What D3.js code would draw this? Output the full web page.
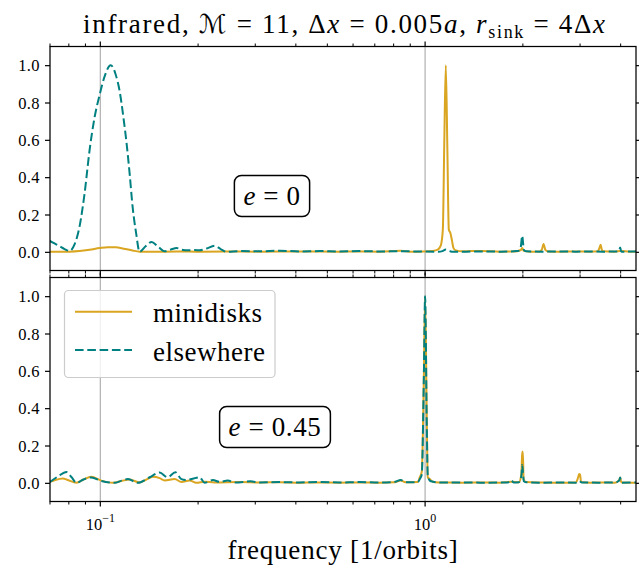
<!DOCTYPE html>
<html>
<head>
<meta charset="utf-8">
<script src="https://cdn.jsdelivr.net/npm/d3@7"></script>
<style>
  body { margin: 0; background: #fff; }
  text { font-family: "Liberation Serif", "DejaVu Serif", serif; fill: #000; }
</style>
</head>
<body>
<svg id="chart" width="639" height="568"></svg>
<script>
// ---- Spectra (normalised amplitude vs. frequency in 1/orbits) ----
// e = 0 panel
const freqMiniE0 = [0.0698, 0.0804, 0.0863, 0.0927, 0.0995, 0.1053, 0.1115, 0.1180, 0.1257, 0.1321,
  0.1439, 0.1718, 0.2022, 0.2449, 0.3095, 0.4111, 0.5460, 0.6292, 0.7254, 0.8417, 0.8972, 0.9908,
  1.056, 1.094, 1.118, 1.134, 1.146, 1.158, 1.171, 1.183, 1.197, 1.210, 1.223, 1.243, 1.30, 1.49,
  1.699, 1.876, 1.972, 1.99, 2.014, 2.10, 2.256, 2.288, 2.316, 2.346, 2.388, 2.6, 2.913, 3.217,
  3.404, 3.44, 3.47, 3.50, 3.53, 3.841, 3.988, 4.272, 4.46];
const ampMiniE0 = [0.0, 0.001, 0.004, 0.011, 0.02, 0.025, 0.024, 0.017, 0.007, 0.001,
  0.0, 0.002, 0.001, 0.002, 0.001, 0.002, 0.001, 0.002, 0.001, 0.006, 0.001, 0.002,
  0.005, 0.012, 0.035, 0.12, 0.6, 1.0, 0.55, 0.12, 0.1, 0.06, 0.02, 0.008, 0.003, 0.005,
  0.001, 0.002, 0.01, 0.02, 0.005, 0.001, 0.002, 0.012, 0.042, 0.01, 0.002, 0.001, 0.002, 0.001,
  0.003, 0.02, 0.038, 0.012, 0.003, 0.001, 0.005, 0.001, 0.002];

const freqElseE0 = [0.0698, 0.0723, 0.0749, 0.0776, 0.0804, 0.0833, 0.0863, 0.0894, 0.0927, 0.0960,
  0.0995, 0.1031, 0.1076, 0.1115, 0.1147, 0.1180, 0.1205, 0.1231, 0.1257, 0.1289, 0.1321, 0.1379,
  0.1439, 0.1501, 0.1578, 0.1646, 0.1718, 0.1780, 0.1858, 0.1952, 0.2022, 0.2125, 0.2249, 0.2347,
  0.2449, 0.2686, 0.3095, 0.3567, 0.4111, 0.4738, 0.5460, 0.6292, 0.7254, 0.8358, 0.9495, 1.10,
  1.13, 1.158, 1.19, 1.22, 1.474, 1.699, 1.876, 1.944, 1.972, 1.99, 2.005, 2.014, 2.043, 2.3, 2.6,
  2.913, 3.217, 3.527, 3.924, 3.96, 3.988, 4.01, 4.036, 4.46];
const ampElseE0 = [0.059, 0.045, 0.03, 0.015, 0.005, 0.04, 0.135, 0.31, 0.546, 0.72,
  0.84, 0.94, 1.0, 0.95, 0.86, 0.71, 0.58, 0.42, 0.243, 0.1, 0.0, 0.03,
  0.053, 0.03, 0.003, 0.012, 0.02, 0.012, 0.008, 0.01, 0.008, 0.018, 0.032, 0.015,
  0.0, 0.004, 0.003, 0.006, 0.002, 0.004, 0.002, 0.004, 0.002, 0.003, 0.002, 0.001,
  0.004, 0.012, 0.004, 0.0, 0.002, 0.001, 0.003, 0.006, 0.03, 0.086, 0.04, 0.01, 0.003, 0.001, 0.002,
  0.001, 0.002, 0.001, 0.002, 0.01, 0.023, 0.005, 0.001, 0.002];

// e = 0.45 panel
const freqMiniE45 = [0.0698, 0.0723, 0.0767, 0.0794, 0.0844, 0.0888, 0.0938, 0.1007, 0.1093, 0.1163,
  0.1231, 0.1321, 0.1379, 0.1452, 0.1523, 0.1578, 0.1694, 0.1777, 0.1884, 0.1975, 0.2095, 0.2249,
  0.2686, 0.3095, 0.3567, 0.4111, 0.4738, 0.5460, 0.6292, 0.7254, 0.80, 0.8417, 0.87, 0.9495,
  0.9631, 0.9768, 0.9908, 1.0, 1.012, 1.019, 1.034, 1.056, 1.10, 1.3, 1.5, 1.699, 1.837, 1.944,
  1.98, 1.99, 2.0, 2.01, 2.043, 2.3, 2.6, 2.913, 2.96, 2.98, 3.0, 3.02, 3.217, 3.527, 3.841,
  3.96, 3.988, 4.01, 4.036, 4.46];
const ampMiniE45 = [0.005, 0.014, 0.023, 0.015, 0.0, 0.018, 0.032, 0.012, 0.0, 0.01,
  0.018, 0.002, 0.015, 0.032, 0.025, 0.012, 0.02, 0.005, 0.012, 0.0, 0.006, 0.002,
  0.004, 0.002, 0.003, 0.001, 0.002, 0.001, 0.002, 0.001, 0.003, 0.012, 0.003, 0.005,
  0.03, 0.06, 0.55, 1.0, 0.35, 0.03, 0.02, 0.006, 0.002, 0.001, 0.002, 0.001, 0.006, 0.003,
  0.05, 0.166, 0.166, 0.02, 0.004, 0.002, 0.001, 0.002, 0.03, 0.047, 0.045, 0.005, 0.001, 0.002, 0.001,
  0.015, 0.028, 0.008, 0.002, 0.001];

const freqElseE45 = [0.0698, 0.0742, 0.0786, 0.0816, 0.0844, 0.0888, 0.0938, 0.1007, 0.1107, 0.1163,
  0.1216, 0.1302, 0.1419, 0.1523, 0.1612, 0.1702, 0.1777, 0.1840, 0.1924, 0.2022, 0.2095, 0.2222,
  0.2330, 0.2467, 0.2611, 0.2900, 0.3095, 0.3567, 0.4111, 0.4738, 0.5460, 0.6292, 0.7254, 0.80,
  0.8417, 0.87, 0.9495, 0.9631, 0.9768, 0.9908, 1.0, 1.012, 1.019, 1.034, 1.056, 1.10, 1.3, 1.5,
  1.798, 1.837, 1.876, 1.944, 1.98, 1.99, 2.0, 2.014, 2.043, 2.3, 2.6, 2.913, 2.98, 3.039, 3.404,
  3.841, 3.96, 3.988, 4.01, 4.036, 4.46];
const ampElseE45 = [0.003, 0.035, 0.058, 0.03, 0.0, 0.018, 0.029, 0.01, 0.0, 0.012,
  0.02, 0.0, 0.03, 0.055, 0.03, 0.057, 0.02, 0.015, 0.022, 0.03, 0.0, 0.015,
  0.005, 0.012, 0.002, 0.008, 0.002, 0.004, 0.002, 0.005, 0.002, 0.004, 0.002, 0.004,
  0.015, 0.003, 0.004, 0.02, 0.045, 0.55, 1.0, 0.3, 0.04, 0.012, 0.006, 0.002, 0.002, 0.001,
  0.002, 0.015, 0.002, 0.003, 0.04, 0.095, 0.06, 0.008, 0.003, 0.001, 0.002, 0.001, 0.01, 0.002, 0.001,
  0.002, 0.012, 0.029, 0.006, 0.001, 0.002];

// ---- Axis ticks and labels ----
const yTicks = [0.0, 0.2, 0.4, 0.6, 0.8, 1.0];
const xMajorTicks = [0.1, 1];
const xMajorExponents = ["\u22121", "0"];
const xMinorTicks = [0.07, 0.08, 0.09, 0.2, 0.3, 0.4, 0.5, 0.6, 0.7, 0.8, 0.9, 2, 3, 4];
const seriesNames = ["minidisks", "elsewhere"];
const panelLabels = ["0", "0.45"];

const GOLD = "#daa520", TEAL = "#008080";
const BIG = 27, SMALL = 16.5;
const svg = d3.select("#chart");

const x = d3.scaleLog().domain([0.07, 4.46]).range([50, 636]);

const panels = [
  { top: 46.5, bottom: 270.5, mini: [freqMiniE0, ampMiniE0], other: [freqElseE0, ampElseE0],
    label: panelLabels[0], box: [272, 196] },
  { top: 277.5, bottom: 501.5, mini: [freqMiniE45, ampMiniE45], other: [freqElseE45, ampElseE45],
    label: panelLabels[1], box: [275, 427] }
];

const zip = (f, a) => f.map((v, i) => [v, a[i]]);

panels.forEach((p, idx) => {
  const y = d3.scaleLinear().domain([-0.1, 1.1]).range([p.bottom, p.top]);
  const g = svg.append("g");
  const clipId = "clip" + idx;
  svg.append("clipPath").attr("id", clipId).append("rect")
    .attr("x", 50).attr("y", p.top).attr("width", 586).attr("height", p.bottom - p.top);

  // vertical grid at decades
  g.selectAll("line.grid").data(xMajorTicks).join("line")
    .attr("x1", d => x(d)).attr("x2", d => x(d))
    .attr("y1", p.top).attr("y2", p.bottom)
    .attr("stroke", "#b0b0b0").attr("stroke-width", 1.2);

  const line = d3.line().x(d => x(d[0])).y(d => y(d[1])).curve(d3.curveMonotoneX);
  const lines = g.append("g").attr("clip-path", `url(#${clipId})`);
  lines.append("path").datum(zip(p.mini[0], p.mini[1]))
    .attr("d", line).attr("fill", "none").attr("stroke", GOLD)
    .attr("stroke-width", 2).attr("stroke-linejoin", "round");
  lines.append("path").datum(zip(p.other[0], p.other[1]))
    .attr("d", line).attr("fill", "none").attr("stroke", TEAL)
    .attr("stroke-width", 2).attr("stroke-dasharray", "8.6,3.7");

  // frame
  g.append("rect").attr("x", 50).attr("y", p.top).attr("width", 586).attr("height", p.bottom - p.top)
    .attr("fill", "none").attr("stroke", "#000").attr("stroke-width", 1.25);

  // y ticks left and right
  const yAxisL = d3.axisLeft(y).tickValues(yTicks).tickFormat(d3.format(".1f")).tickSize(5).tickPadding(5);
  const gl = g.append("g").attr("transform", "translate(50,0)").call(yAxisL);
  gl.select(".domain").remove();
  gl.selectAll("line").attr("stroke-width", 1.2);
  gl.selectAll("text").attr("font-size", SMALL).attr("font-family", "Liberation Serif")
    .attr("dy", "0.34em").attr("letter-spacing", 0.4);
  const gr = g.append("g").attr("transform", "translate(636,0)")
    .call(d3.axisRight(y).tickValues(yTicks).tickSize(5).tickFormat(""));
  gr.select(".domain").remove();
  gr.selectAll("line").attr("stroke-width", 1.2);

  // x ticks top and bottom
  [[p.top, -1], [p.bottom, 1]].forEach(([yy, dir]) => {
    g.selectAll(null).data(xMajorTicks).join("line")
      .attr("x1", d => x(d)).attr("x2", d => x(d))
      .attr("y1", yy).attr("y2", yy + dir * 5)
      .attr("stroke", "#000").attr("stroke-width", 1.2);
    g.selectAll(null).data(xMinorTicks).join("line")
      .attr("x1", d => x(d)).attr("x2", d => x(d))
      .attr("y1", yy).attr("y2", yy + dir * 3)
      .attr("stroke", "#000").attr("stroke-width", 1);
  });

  // eccentricity tag
  const tag = g.append("g");
  const t = tag.append("text").attr("x", p.box[0]).attr("y", p.box[1])
    .attr("text-anchor", "middle").attr("dominant-baseline", "central")
    .attr("font-size", BIG).attr("letter-spacing", 0.6);
  t.append("tspan").attr("font-style", "italic").text("e");
  t.append("tspan").text(" = " + p.label);
  const bb = t.node().getBBox();
  tag.insert("rect", "text")
    .attr("x", bb.x - 9).attr("y", p.box[1] - 20.5).attr("width", bb.width + 18).attr("height", 41)
    .attr("rx", 7).attr("fill", "#fff").attr("stroke", "#000").attr("stroke-width", 1.5);

  if (idx === 1) {
    // x tick labels
    xMajorTicks.forEach((d, i) => {
      const tt = svg.append("text").attr("x", x(d)).attr("y", 529.5).attr("text-anchor", "middle")
        .attr("font-size", SMALL);
      tt.append("tspan").text("10");
      tt.append("tspan").attr("font-size", 12).attr("dy", -7.5).text(xMajorExponents[i]);
    });
    // legend
    const lg = svg.append("g");
    lg.append("rect").attr("x", 64.5).attr("y", 290.5).attr("width", 210.5).attr("height", 87)
      .attr("rx", 4).attr("fill", "#fff").attr("fill-opacity", 0.8)
      .attr("stroke", "#cccccc").attr("stroke-width", 1.2);
    [[GOLD, null, 311.7], [TEAL, "8.6,3.7", 350]].forEach(([c, dash, yy], i) => {
      lg.append("line").attr("x1", 75).attr("x2", 132).attr("y1", yy).attr("y2", yy)
        .attr("stroke", c).attr("stroke-width", 2).attr("stroke-dasharray", dash);
      lg.append("text").attr("x", 153).attr("y", yy + 10.5).attr("font-size", BIG)
        .attr("letter-spacing", 0.5).text(seriesNames[i]);
    });
  }
});

// title
const title = svg.append("text").attr("x", 344).attr("y", 33).attr("text-anchor", "middle")
  .attr("font-size", BIG).attr("textLength", 522).attr("lengthAdjust", "spacing");
title.append("tspan").text("infrared, ");
title.append("tspan").attr("font-family", "DejaVu Serif, DejaVu Sans").attr("font-size", 26).text("\u2133");
title.append("tspan").text(" = 11, \u0394");
title.append("tspan").attr("font-style", "italic").text("x");
title.append("tspan").text(" = 0.005");
title.append("tspan").attr("font-style", "italic").text("a");
title.append("tspan").text(", ");
title.append("tspan").attr("font-style", "italic").text("r");
title.append("tspan").attr("font-size", 18).attr("dy", 5).text("sink");
title.append("tspan").attr("dy", -5).text(" = 4\u0394");
title.append("tspan").attr("font-style", "italic").text("x");

// x-axis title
svg.append("text").attr("x", 343).attr("y", 559).attr("text-anchor", "middle")
  .attr("font-size", BIG).attr("letter-spacing", 0.8).text("frequency [1/orbits]");
</script>
</body>
</html>
